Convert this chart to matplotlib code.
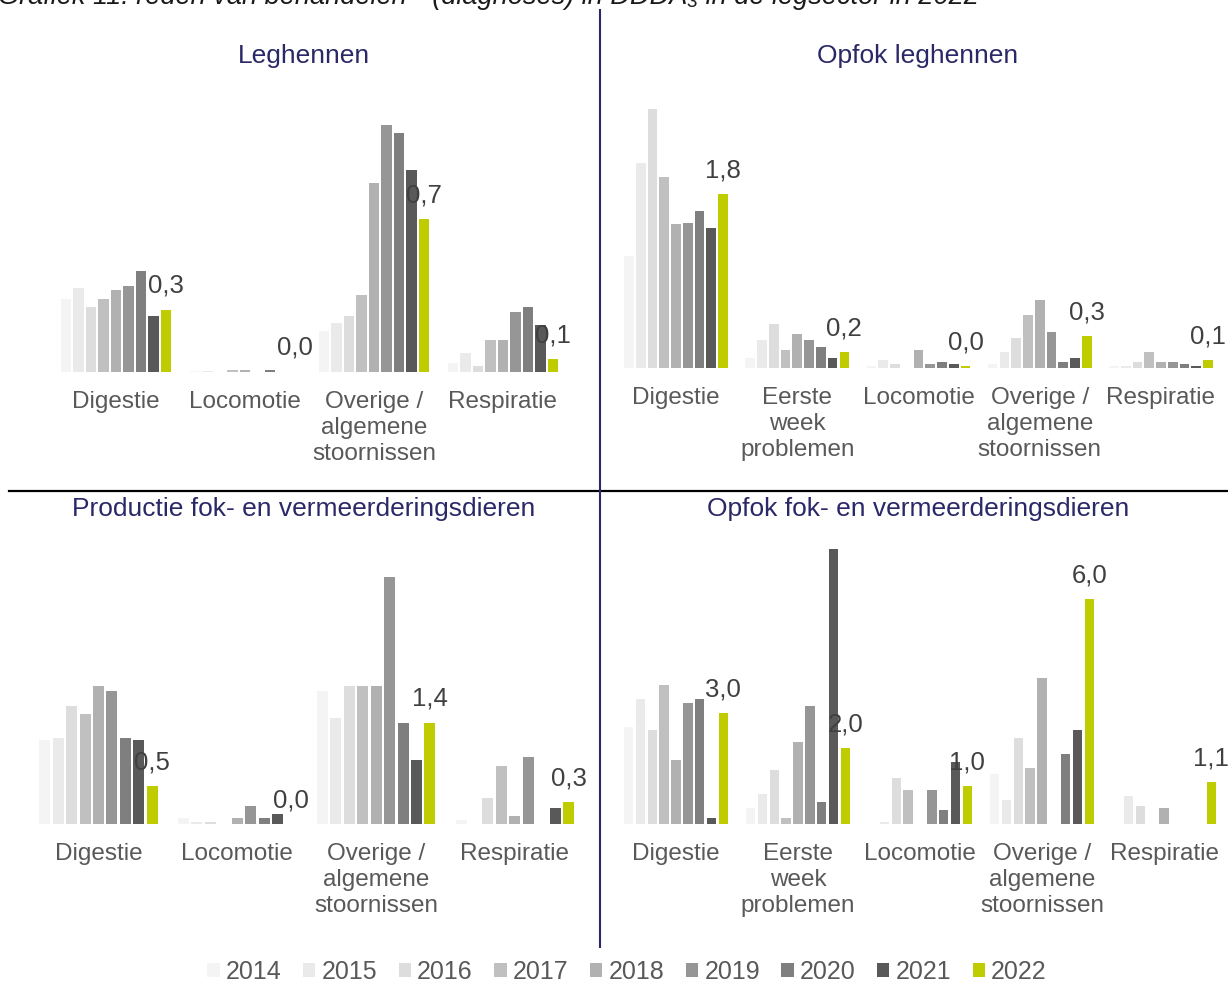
import matplotlib
matplotlib.use('Agg')
import matplotlib.pyplot as plt
from matplotlib.lines import Line2D
from matplotlib.patches import Patch

plt.rcParams['font.family'] = ['Liberation Sans', 'DejaVu Sans']

years = ['2014', '2015', '2016', '2017', '2018', '2019', '2020', '2021', '2022']
colors = ['#f4f4f4', '#eaeaea', '#dddddd', '#c0c0c0', '#b1b1b1', '#969696',
          '#7f7f7f', '#595959', '#bfcc00']

cats_4 = ['Digestie', 'Locomotie', 'Overige /\nalgemene\nstoornissen', 'Respiratie']
cats_5 = ['Digestie', 'Eerste\nweek\nproblemen', 'Locomotie',
          'Overige /\nalgemene\nstoornissen', 'Respiratie']

# one row per category, one value per year 2014..2022 (DDDA)
leghennen = [
    [0.34, 0.39, 0.30, 0.34, 0.38, 0.40, 0.47, 0.26, 0.29],
    [0.005, 0.005, 0.0, 0.007, 0.007, 0.0, 0.01, 0.0, 0.002],
    [0.19, 0.23, 0.26, 0.36, 0.88, 1.15, 1.11, 0.94, 0.71],
    [0.04, 0.09, 0.03, 0.15, 0.15, 0.28, 0.30, 0.22, 0.06],
]
opfok_leghennen = [
    [1.15, 2.11, 2.67, 1.97, 1.48, 1.50, 1.62, 1.44, 1.79],
    [0.10, 0.29, 0.45, 0.19, 0.35, 0.29, 0.22, 0.10, 0.16],
    [0.02, 0.08, 0.04, 0.0, 0.19, 0.04, 0.06, 0.04, 0.02],
    [0.04, 0.16, 0.31, 0.55, 0.70, 0.37, 0.06, 0.10, 0.33],
    [0.02, 0.02, 0.06, 0.16, 0.06, 0.06, 0.04, 0.02, 0.08],
]
productie_fok = [
    [1.13, 1.16, 1.59, 1.48, 1.86, 1.80, 1.16, 1.13, 0.51],
    [0.08, 0.03, 0.03, 0.0, 0.08, 0.24, 0.08, 0.14, 0.0],
    [1.80, 1.43, 1.86, 1.86, 1.86, 3.34, 1.37, 0.86, 1.37],
    [0.05, 0.0, 0.35, 0.78, 0.11, 0.91, 0.0, 0.22, 0.30],
]
opfok_fok = [
    [2.59, 3.33, 2.49, 3.71, 1.70, 3.23, 3.33, 0.16, 2.96],
    [0.43, 0.80, 1.44, 0.16, 2.17, 3.13, 0.59, 7.31, 2.01],
    [0.0, 0.05, 1.22, 0.90, 0.0, 0.90, 0.37, 1.64, 1.01],
    [1.33, 0.64, 2.28, 1.49, 3.87, 0.0, 1.85, 2.49, 5.98],
    [0.0, 0.75, 0.48, 0.0, 0.43, 0.0, 0.0, 0.0, 1.11],
]

W, H = 1228, 985
navy = '#2b2867'
fig = plt.figure(figsize=(W / 100, H / 100), dpi=100)


def panel(title, cats, vals, c0, step, base, scale, top, title_x, title_y):
    # c0/step/base/top in pixels, scale = pixels per unit
    n = len(cats)
    left = c0 - 0.5 * step
    ax = fig.add_axes([left / W, 1 - base / H, n * step / W, (base - top) / H])
    pitch, width = 0.097, 0.079
    for j, yr in enumerate(years):
        xs = [i + (j - 4) * pitch for i in range(n)]
        ys = [row[j] for row in vals]
        ax.bar(xs, ys, width=width, color=colors[j], linewidth=0)
    for i, row in enumerate(vals):
        v = row[-1]
        ax.annotate(f'{v:.1f}'.replace('.', ','), (i + 4 * pitch, v),
                    xytext=(0, 12), textcoords='offset points',
                    ha='center', va='baseline', fontsize=18.5, color='#404040')
    ax.set_xlim(-0.5, n - 0.5)
    ax.set_ylim(0, (base - top) / scale)
    ax.set_xticks(range(n))
    ax.set_xticklabels(cats, fontsize=17.5, color='#595959', linespacing=1.24)
    ax.tick_params(axis='x', length=0, pad=13.5)
    ax.set_yticks([])
    for s in ax.spines.values():
        s.set_visible(False)
    ax.patch.set_alpha(0)
    fig.text(title_x / W, 1 - title_y / H, title,
             ha='center', va='baseline', fontsize=19, color=navy)
    return ax


panel('Leghennen', cats_4, leghennen, 116, 129, 372, 215, 100, 304, 63)
panel('Opfok leghennen', cats_5, opfok_leghennen, 676, 121.25, 368, 97, 100, 918, 63)
panel('Productie fok- en vermeerderingsdieren', cats_4, productie_fok,
      98.5, 138.8, 824, 74, 540, 304, 516)
panel('Opfok fok- en vermeerderingsdieren', cats_5, opfok_fok,
      676, 122, 824, 37.6, 540, 918, 516)

fig.add_artist(Line2D([9 / W, 1], [1 - 491 / H, 1 - 491 / H], color='black', lw=1.6))
fig.add_artist(Line2D([600 / W, 600 / W], [1 - 10 / H, 1 - 947 / H], color=navy, lw=1.5))

fig.text(-2 / W, 1 - 4 / H,
         'Grafiek 11: reden van behandelen\u00b9\u00b9 (diagnoses) in DDDA\u2083 in de legsector in 2022',
         ha='left', va='baseline', fontsize=19.5, style='italic', color='#1a1a1a')

handles = [Patch(facecolor=c, edgecolor='none') for c in colors]
fig.legend(handles, years, loc='center', bbox_to_anchor=(627 / W, 1 - 972 / H),
           ncol=9, frameon=False, fontsize=18, labelcolor='#595959',
           handlelength=0.5, handleheight=0.5, handletextpad=0.25,
           columnspacing=0.85)

fig.savefig('out.png', dpi=100)
